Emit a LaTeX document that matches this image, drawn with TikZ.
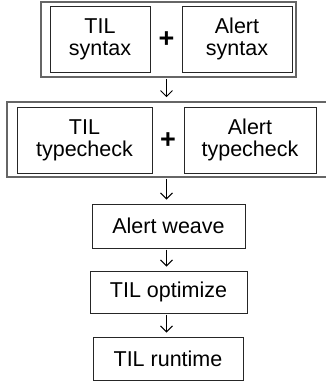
\documentclass[tikz,border=0pt]{standalone}
\usepackage{fontspec}
\setmainfont{Liberation Sans}
\usetikzlibrary{arrows.meta}
\tikzset{
  stagebox/.style={draw=black!85, line width=1pt, inner sep=0pt, align=center,
    font=\fontsize{21.5}{22}\selectfont},
  groupbox/.style={draw=black!60, line width=1.6pt, inner sep=0pt},
  flow/.style={line width=0.9pt, -{Straight Barb[length=6pt,width=12pt]},
    shorten <=1pt, shorten >=4pt},
  plus/.style={font=\fontsize{27}{27}\bfseries\selectfont}
}

\begin{document}
\begin{tikzpicture}[x=1pt,y=-1pt]
			%%%%% START %%%%%
			\useasboundingbox (0,0) rectangle (325,381);
			
			% syntax stage
			\node[groupbox, minimum width=255pt, minimum height=75pt] (syn) at (168.5,39.5) {};
			\node[stagebox, minimum width=100pt, minimum height=66pt] (tilsyn) at (100,39) {TIL\\syntax};
			\node[stagebox, minimum width=110pt, minimum height=66pt] (alsyn) at (237,39) {Alert\\syntax};
			\node[plus] (plusa) at (166.5,40) {+};
			
			% typecheck stage
			\node[groupbox, minimum width=326pt, minimum height=75pt] (chk) at (170,139.5) {};
			\node[stagebox, minimum width=135pt, minimum height=66pt] (tilchk) at (84.5,140) {TIL\\typecheck};
			\node[stagebox, minimum width=132pt, minimum height=66pt] (alchk) at (250,140) {Alert\\typecheck};
			\node[plus] (plusb) at (168,141) {+};
			
			% pipeline
			\node[stagebox, minimum width=153pt, minimum height=44pt] (weave) at (168.5,226) {Alert weave};
			\node[stagebox, minimum width=157pt, minimum height=42pt] (opt) at (168.5,292) {TIL optimize};
			\node[stagebox, minimum width=150pt, minimum height=43pt] (run) at (168,358.5) {TIL runtime};
			
			\draw[flow] (syn.south -| plusa) -- (chk.north -| plusa);
			\draw[flow] (chk.south -| plusa) -- (weave.north -| plusa);
			\draw[flow] (weave.south -| plusa) -- (opt.north -| plusa);
			\draw[flow] (opt.south -| plusa) -- (run.north -| plusa);
			
			%%%%% END %%%%%
\end{tikzpicture}
\end{document}
